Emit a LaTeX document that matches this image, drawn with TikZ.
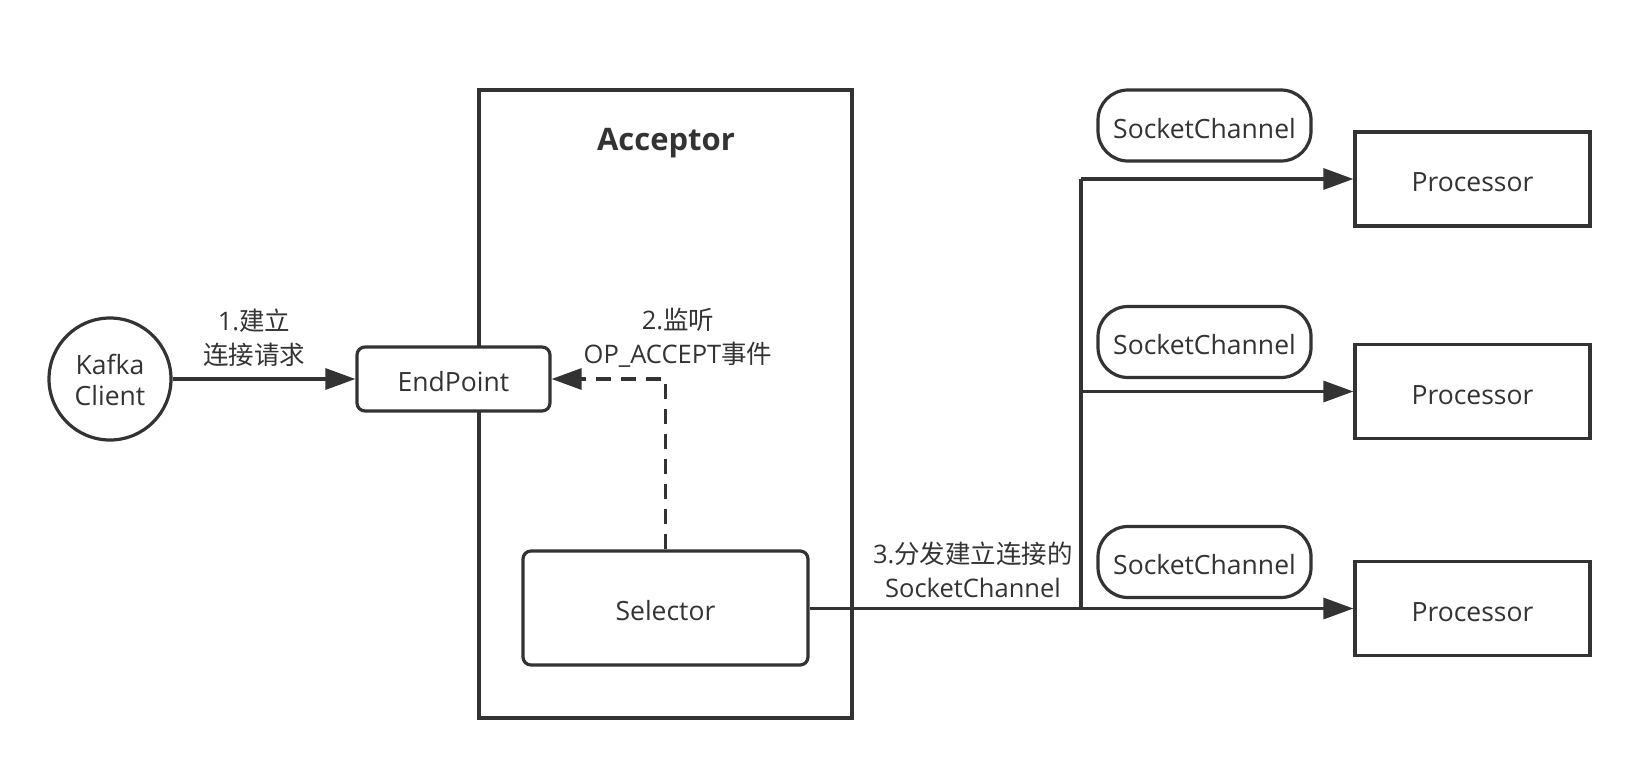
\documentclass[tikz,border=0pt]{standalone}
\usepackage{fontspec}
\setmainfont{Open Sans}
\newfontfamily\cjk{Noto Sans CJK SC}
\usetikzlibrary{arrows.meta}
\definecolor{ink}{HTML}{333333}
\tikzset{
  base/.style={draw=ink, line width=3.2pt, text=ink, inner sep=0pt, align=center, font=\fontsize{26.5}{34}\selectfont},
  oneline/.style={text height=25pt, text depth=0pt},
  roundbox/.style={base, oneline, rectangle, rounded corners=8pt},
  plainbox/.style={base, rectangle},
  pill/.style={base, oneline, rectangle, rounded corners=30pt, minimum width=213pt, minimum height=71pt},
  procbox/.style={base, oneline, rectangle, minimum width=235pt, minimum height=94pt},
  lbl/.style={text=ink, inner sep=0pt, align=center, font=\fontsize{25.5}{34}\selectfont},
  conn/.style={draw=ink, line width=3.2pt},
  tip/.style={-{Triangle[length=30pt,width=21pt]}},
}
\begin{document}
\begin{tikzpicture}[x=1pt,y=-1pt]
\useasboundingbox (0,0) rectangle (1640,768);
% Acceptor container
\node[plainbox, minimum width=373pt, minimum height=628pt] (acc) at (665.5,404) {};
\node[text=ink, font=\fontsize{31}{34}\selectfont\bfseries] (acclbl) at (666,143) {Acceptor};
% Nodes
\node[base, circle, minimum size=122pt] (client) at (110,379) {\raisebox{-10.5pt}[0pt][0pt]{\begin{tabular}{@{}c@{}}Kafka\\[-3pt]Client\end{tabular}}};
\node[roundbox, minimum width=193pt, minimum height=64pt, fill=white] (ep) at (453.5,379) {EndPoint};
\node[roundbox, minimum width=285pt, minimum height=114pt] (sel) at (665.5,608) {Selector};
\node[procbox] (p1) at (1472.5,179) {Processor};
\node[procbox] (p2) at (1472.5,391.5) {Processor};
\node[procbox] (p3) at (1472.5,608.5) {Processor};
\node[pill] (sc1) at (1204.5,125.5) {SocketChannel};
\node[pill] (sc2) at (1204.5,342) {SocketChannel};
\node[pill] (sc3) at (1204.5,562) {SocketChannel};
% Labels
\node[lbl] (l1) at (254,338) {1.{\cjk 建立}\\{\cjk 连接请求}};
\node[lbl] (l2) at (678,338) {2.{\cjk 监听}\\OP\_ACCEPT{\cjk 事件}};
\node[lbl] (l3) at (973,570) {3.{\cjk 分发建立连接的}\\SocketChannel};
% Connectors
\draw[conn, tip] (client) -- (ep);
\coordinate (bend) at (sel.north |- ep.east);
\draw[conn, dash pattern=on 15pt off 10pt, tip] (sel.north) -- (bend) -- (ep.east);
\coordinate (fork) at (1081,608.5);
\coordinate (forktop) at (1081,179);
\coordinate (forkmid) at (1081,391.5);
\draw[conn, tip] (sel.east |- p3.west) -- (p3.west);
\draw[conn] (fork) -- (forktop);
\draw[conn, tip] (forktop) -- (p1.west);
\draw[conn, tip] (forkmid) -- (p2.west);
\end{tikzpicture}
\end{document}
